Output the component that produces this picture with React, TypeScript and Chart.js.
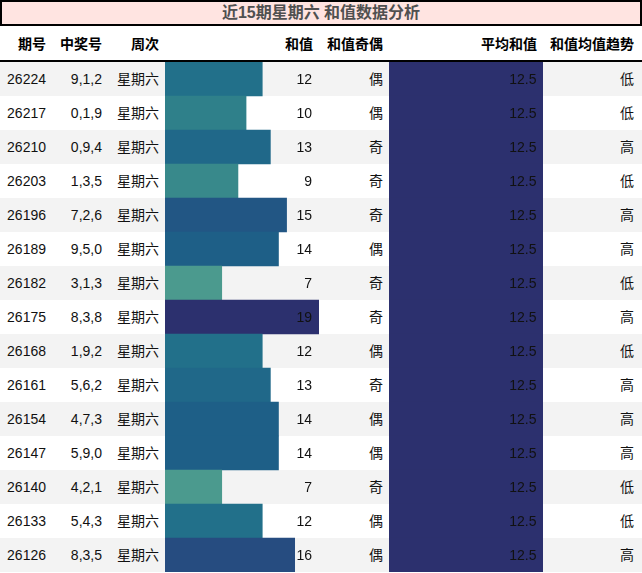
import React, { useEffect, useRef } from "react";
import { Chart, registerables } from "chart.js";

Chart.register(...registerables);

const TITLE = "近15期星期六 和值数据分析";
const HEADERS = ["期号", "中奖号", "周次", "和值", "和值奇偶", "平均和值", "和值均值趋势"];
const issues = ["26224", "26217", "26210", "26203", "26196", "26189", "26182", "26175", "26168", "26161", "26154", "26147", "26140", "26133", "26126"];
const numbers = ["9,1,2", "0,1,9", "0,9,4", "1,3,5", "7,2,6", "9,5,0", "3,1,3", "8,3,8", "1,9,2", "5,6,2", "4,7,3", "5,9,0", "4,2,1", "5,4,3", "8,3,5"];
const weekdays = ["星期六", "星期六", "星期六", "星期六", "星期六", "星期六", "星期六", "星期六", "星期六", "星期六", "星期六", "星期六", "星期六", "星期六", "星期六"];
const sums = [12, 10, 13, 9, 15, 14, 7, 19, 12, 13, 14, 14, 7, 12, 16];
const parity = ["偶", "偶", "奇", "奇", "奇", "偶", "奇", "奇", "偶", "奇", "偶", "偶", "奇", "偶", "偶"];
const avgSums = [12.5, 12.5, 12.5, 12.5, 12.5, 12.5, 12.5, 12.5, 12.5, 12.5, 12.5, 12.5, 12.5, 12.5, 12.5];
const trend = ["低", "低", "高", "低", "高", "高", "低", "高", "低", "高", "高", "高", "低", "低", "高"];

// layout
const COLS = [0, 52, 108, 165, 319, 389, 543, 642];
const PADS = [6, 6, 6, 6, 6, 6, 8];
const TITLE_H = 26;
const HEAD_BOTTOM = 60;
const ROW_TOP = 62;
const ROW_H = 34;
const FONT = '"Liberation Sans", "Noto Sans CJK SC", sans-serif';

const crestStops: [number, number[]][] = [
  [0.0, [165, 205, 144]],
  [0.37, [75, 154, 142]],
  [0.53, [46, 127, 138]],
  [0.63, [34, 112, 138]],
  [0.74, [30, 95, 135]],
  [0.84, [38, 76, 128]],
  [1.0, [44, 48, 110]],
];

function crest(t: number): string {
  t = Math.max(0, Math.min(1, t));
  for (let i = 1; i < crestStops.length; i++) {
    const [t1, c1] = crestStops[i];
    const [t0, c0] = crestStops[i - 1];
    if (t <= t1) {
      const f = (t - t0) / (t1 - t0);
      const c = c0.map((v, k) => Math.round(v + (c1[k] - v) * f));
      return `rgb(${c[0]},${c[1]},${c[2]})`;
    }
  }
  const c = crestStops[crestStops.length - 1][1];
  return `rgb(${c[0]},${c[1]},${c[2]})`;
}

function makeBarChart(canvas: HTMLCanvasElement, values: number[], fmt: (v: number) => string, pad: number) {
  const max = Math.max(...values);
  const labelPlugin = {
    id: "cellLabels",
    afterDatasetsDraw(chart: any) {
      const ctx = chart.ctx;
      const meta = chart.getDatasetMeta(0);
      ctx.save();
      ctx.font = `14px ${FONT}`;
      ctx.fillStyle = "#111";
      ctx.textAlign = "right";
      ctx.textBaseline = "middle";
      meta.data.forEach((el: any, i: number) => {
        ctx.fillText(fmt(values[i]), chart.width - pad, el.y + 1);
      });
      ctx.restore();
    },
  };
  return new Chart(canvas, {
    type: "bar",
    data: {
      labels: issues,
      datasets: [
        {
          data: values,
          backgroundColor: values.map((v) => crest(v / max)),
          borderWidth: 0,
          barPercentage: 1,
          categoryPercentage: 1,
        },
      ],
    },
    options: {
      indexAxis: "y",
      animation: false,
      responsive: false,
      maintainAspectRatio: false,
      events: [],
      layout: { padding: 0 },
      plugins: { legend: { display: false }, tooltip: { enabled: false } },
      scales: {
        x: { display: false, min: 0, max: max },
        y: { display: false },
      },
    },
    plugins: [labelPlugin],
  } as any);
}

function cellStyle(col: number, top: number, height: number, extra: any = {}): React.CSSProperties {
  return {
    position: "absolute",
    left: COLS[col],
    top,
    width: COLS[col + 1] - COLS[col],
    height,
    lineHeight: `${height}px`,
    textAlign: "right",
    paddingRight: PADS[col],
    boxSizing: "border-box",
    whiteSpace: "nowrap",
    ...extra,
  };
}

export default function App() {
  const sumRef = useRef<HTMLCanvasElement>(null);
  const avgRef = useRef<HTMLCanvasElement>(null);

  useEffect(() => {
    const c1 = makeBarChart(sumRef.current!, sums, (v) => String(v), 7);
    const c2 = makeBarChart(avgRef.current!, avgSums, (v) => v.toFixed(1), 6.5);
    return () => {
      c1.destroy();
      c2.destroy();
    };
  }, []);

  const n = issues.length;
  const bodyH = n * ROW_H;

  return (
    <div
      style={{
        position: "absolute",
        left: 0,
        top: 0,
        width: 642,
        height: 573,
        background: "#fff",
        fontFamily: FONT,
        fontSize: 14,
        color: "#111",
        overflow: "hidden",
      }}
    >
      <div
        style={{
          position: "absolute",
          left: 0,
          top: 0,
          width: 642,
          height: TITLE_H,
          boxSizing: "border-box",
          border: "2px solid #000",
          background: "#ffe4e1",
          color: "#505050",
          fontWeight: "bold",
          fontSize: 16,
          lineHeight: `${TITLE_H - 4}px`,
          textAlign: "center",
        }}
      >
        {TITLE}
      </div>
      {HEADERS.map((h, i) => (
        <div key={"h" + i} style={cellStyle(i, TITLE_H + 1, HEAD_BOTTOM - TITLE_H, { fontWeight: "bold", color: "#000" })}>
          {h}
        </div>
      ))}
      <div style={{ position: "absolute", left: 0, top: HEAD_BOTTOM, width: 642, height: 2, background: "#000" }} />
      {issues.map((_, r) => (
        <div
          key={"bg" + r}
          style={{
            position: "absolute",
            left: 0,
            top: ROW_TOP + r * ROW_H,
            width: 642,
            height: ROW_H,
            background: r % 2 === 0 ? "#f3f3f3" : "#ffffff",
          }}
        />
      ))}
      {issues.map((v, r) => {
        const top = ROW_TOP + r * ROW_H;
        return (
          <React.Fragment key={"r" + r}>
            <div style={cellStyle(0, top, ROW_H)}>{v}</div>
            <div style={cellStyle(1, top, ROW_H)}>{numbers[r]}</div>
            <div style={cellStyle(2, top, ROW_H)}>{weekdays[r]}</div>
            <div style={cellStyle(4, top, ROW_H)}>{parity[r]}</div>
            <div style={cellStyle(6, top, ROW_H)}>{trend[r]}</div>
          </React.Fragment>
        );
      })}
      <canvas
        ref={sumRef}
        width={COLS[4] - COLS[3]}
        height={bodyH}
        style={{ position: "absolute", left: COLS[3], top: ROW_TOP, width: COLS[4] - COLS[3], height: bodyH }}
      />
      <canvas
        ref={avgRef}
        width={COLS[6] - COLS[5]}
        height={bodyH}
        style={{ position: "absolute", left: COLS[5], top: ROW_TOP, width: COLS[6] - COLS[5], height: bodyH }}
      />
    </div>
  );
}
